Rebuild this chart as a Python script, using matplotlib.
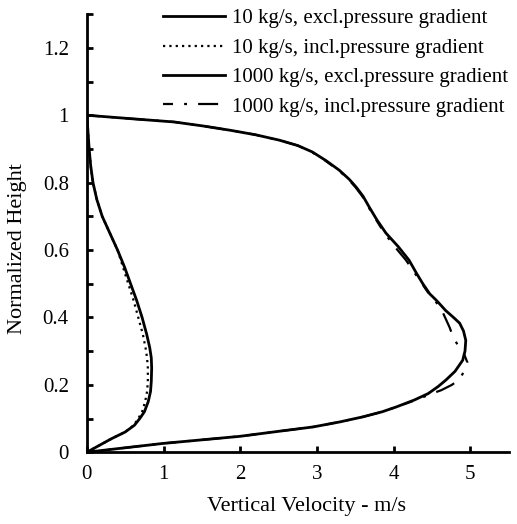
import matplotlib
matplotlib.use("Agg")
import matplotlib.pyplot as plt
from matplotlib.ticker import MultipleLocator

plt.rcParams['font.family'] = ['Liberation Serif', 'DejaVu Serif']

# 10 kg/s, excl. pressure gradient
h10_ex = [0.0, 0.02, 0.04, 0.06, 0.08, 0.1, 0.12, 0.15, 0.18, 0.21, 0.25, 0.28, 0.31, 0.35, 0.4, 0.45, 0.5,
          0.55, 0.6, 0.65, 0.7, 0.75, 0.8, 0.85, 0.9, 0.95, 1.0]
v10_ex = [0.0, 0.16, 0.32, 0.5, 0.62, 0.69, 0.75, 0.8, 0.83, 0.84, 0.845, 0.84, 0.82, 0.78, 0.72, 0.65, 0.57,
          0.49, 0.4, 0.3, 0.2, 0.13, 0.08, 0.05, 0.03, 0.015, 0.0]
# 10 kg/s, incl. pressure gradient
h10_in = [0.0, 0.02, 0.04, 0.06, 0.08, 0.1, 0.12, 0.15, 0.18, 0.21, 0.25, 0.28, 0.31, 0.35, 0.4, 0.45, 0.5,
          0.55, 0.6, 0.65, 0.7, 0.75, 0.8, 0.85, 0.9, 0.95, 1.0]
v10_in = [0.0, 0.16, 0.32, 0.5, 0.61, 0.67, 0.72, 0.76, 0.785, 0.795, 0.795, 0.785, 0.765, 0.73, 0.67, 0.61, 0.54,
          0.47, 0.4, 0.3, 0.2, 0.13, 0.08, 0.05, 0.03, 0.015, 0.0]
# 1000 kg/s, excl. pressure gradient
h1000_ex = [0.0, 0.01, 0.026, 0.047, 0.062, 0.075, 0.09, 0.105, 0.12, 0.134, 0.155, 0.174, 0.195, 0.214, 0.24,
            0.273, 0.3, 0.332, 0.36, 0.383, 0.4, 0.42, 0.45, 0.47, 0.5, 0.53, 0.57, 0.61, 0.65, 0.69, 0.728,
            0.76, 0.787, 0.81, 0.837, 0.865, 0.891, 0.91, 0.926, 0.942, 0.955, 0.968, 0.98, 0.99, 1.0]
v1000_ex = [0.0, 0.38, 0.99, 1.99, 2.5, 2.95, 3.3, 3.6, 3.85, 4.03, 4.27, 4.45, 4.58, 4.68, 4.8,
            4.9, 4.93, 4.94, 4.91, 4.86, 4.78, 4.68, 4.56, 4.47, 4.38, 4.3, 4.2, 4.06, 3.9, 3.78, 3.68,
            3.6, 3.51, 3.42, 3.29, 3.12, 2.94, 2.75, 2.51, 2.2, 1.88, 1.52, 1.14, 0.56, 0.0]
# 1000 kg/s, incl. pressure gradient
h1000_in = [0.0, 0.01, 0.026, 0.047, 0.062, 0.075, 0.09, 0.105, 0.12, 0.134, 0.155, 0.174, 0.184, 0.2, 0.217,
            0.245, 0.267, 0.29, 0.32, 0.345, 0.37, 0.415, 0.45, 0.47, 0.5, 0.53, 0.57, 0.6, 0.65, 0.69, 0.728,
            0.76, 0.787, 0.81, 0.837, 0.865, 0.891, 0.91, 0.926, 0.942, 0.955, 0.968, 0.98, 0.99, 1.0]
v1000_in = [0.0, 0.38, 0.99, 1.99, 2.5, 2.95, 3.3, 3.6, 3.85, 4.03, 4.29, 4.5, 4.62, 4.76, 4.86,
            4.93, 4.96, 4.92, 4.83, 4.77, 4.73, 4.64, 4.54, 4.46, 4.37, 4.28, 4.16, 4.05, 3.88, 3.77, 3.67,
            3.59, 3.5, 3.41, 3.28, 3.11, 2.93, 2.75, 2.51, 2.2, 1.88, 1.52, 1.14, 0.56, 0.0]

labels = ["10 kg/s, excl.pressure gradient",
          "10 kg/s, incl.pressure gradient",
          "1000 kg/s, excl.pressure gradient",
          "1000 kg/s, incl.pressure gradient"]

fig = plt.figure(figsize=(5.17, 5.24), dpi=100)
ax = fig.add_axes([0.168, 0.137, 0.816, 0.836])

lw = 2.0
ax.plot(v10_ex, h10_ex, color='black', lw=lw, ls='-', label=labels[0])
ax.plot(v10_in, h10_in, color='black', lw=1.6, ls=(0, (1.0, 1.85)), label=labels[1])
ax.plot(v1000_ex, h1000_ex, color='black', lw=lw, ls='-', label=labels[2])
ax.plot(v1000_in, h1000_in, color='black', lw=1.6, ls=(0, (4.5, 5, 1.3, 5, 9, 5, 1.3, 5)), label=labels[3])

ax.set_xlim(0, 5.5)
ax.set_ylim(0, 1.3)
ax.set_yticks([0, 0.2, 0.4, 0.6, 0.8, 1.0, 1.2])
ax.set_yticklabels(['0', '0.2', '0.4', '0.6', '0.8', '1', '1.2'])
ax.yaxis.set_minor_locator(MultipleLocator(0.1))
ax.set_xticks([0, 1, 2, 3, 4, 5])
ax.set_xticklabels(['0', '1', '2', '3', '4', '5'])

for s in ['top', 'right']:
    ax.spines[s].set_visible(False)
for s in ['left', 'bottom']:
    ax.spines[s].set_linewidth(2.0)

ax.tick_params(axis='both', which='major', direction='in', length=4.5, width=2.0, labelsize=15)
ax.tick_params(axis='y', which='minor', direction='in', length=4.5, width=2.0)
ax.tick_params(axis='y', which='major', pad=13)
ax.tick_params(axis='x', which='major', pad=9)

ax.set_xlabel('Vertical Velocity - m/s', fontsize=16)
ax.set_ylabel('Normalized Height', fontsize=16)
ax.xaxis.set_label_coords(0.52, -0.102)
ax.yaxis.set_label_coords(-0.143, 0.466)

leg = fig.legend(loc='upper left', bbox_to_anchor=(163 / 517, 0.983), bbox_transform=fig.transFigure,
                 frameon=False, fontsize=15, handlelength=2.97, handletextpad=0.35, labelspacing=0.47,
                 borderpad=0.0, borderaxespad=0.0)

fig.savefig('out.png', dpi=100)
